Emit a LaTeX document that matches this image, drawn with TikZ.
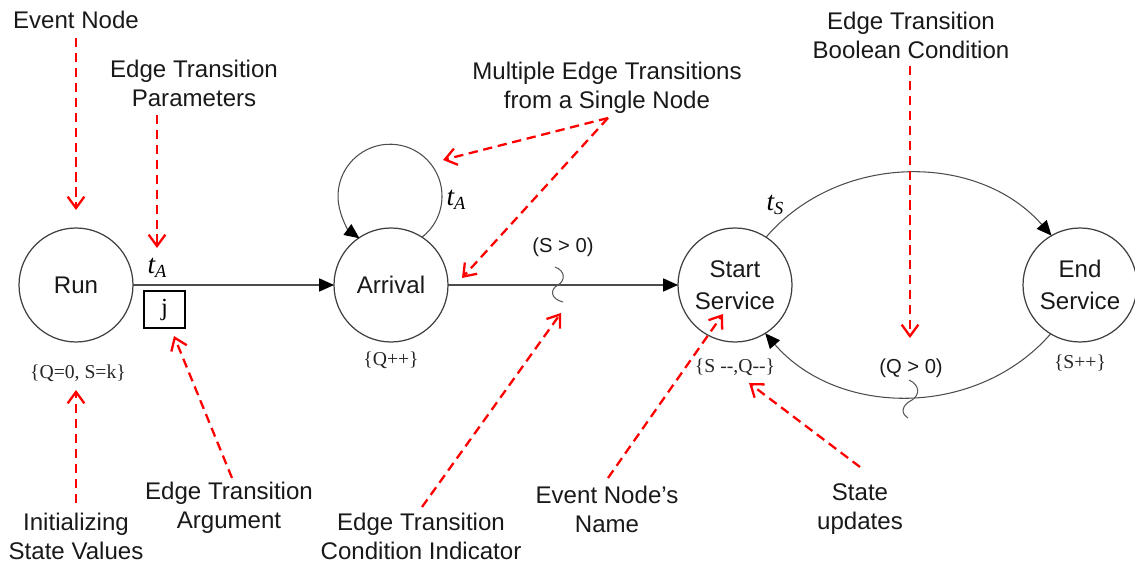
\documentclass[tikz,border=0pt]{standalone}
\usepackage{fontspec}
\setmainfont{Liberation Sans}
\newfontfamily\seriffont{Liberation Serif}
\usetikzlibrary{arrows.meta}
\newcommand{\tsub}[2]{{\seriffont\itshape\fontsize{15.5}{17}\selectfont #1\raisebox{-0.35ex}{\fontsize{10.5}{10}\selectfont #2}}}
\begin{document}
\begin{tikzpicture}[x=0.02cm,y=-0.02cm,
  every node/.style={inner sep=0pt, outer sep=0pt},
  lbl/.style={font=\fontsize{13.7}{16.4}\selectfont, align=center, text=black!90},
  ev/.style={circle, draw=black!75, line width=0.7pt, minimum size=2.28cm,
             font=\fontsize{13.7}{18}\selectfont, align=center, text=black!90},
  st/.style={font=\seriffont\fontsize{11.2}{13}\selectfont, text=black!85},
  cond/.style={font=\fontsize{11.5}{14}\selectfont, text=black!90},
  edge/.style={draw=black!70, line width=0.6pt,
               -{Triangle[length=8.5pt,width=7.5pt,fill=black,color=black]}},
  ann/.style={draw=red, line width=1.3pt, dash pattern=on 5.3pt off 3.2pt,
              -{Straight Barb[length=6.5pt,width=9.5pt]}},
  sq/.style={draw=black!65, line width=0.6pt}
]
\useasboundingbox (0,0) rectangle (1135,563);

% event nodes
\node[ev] (run) at (76,285) {Run};
\node[ev] (arr) at (391,285) {Arrival};
\node[ev] (ss) at (735,285) {Start\\Service};
\node[ev] (es) at (1080,285) {End\\Service};

% state updates
\node[st] (s1) at (78,373) {\{Q=0, S=k\}};
\node[st] (s2) at (391,360) {\{Q++\}};
\node[st] (s3) at (735,367) {\{S -{}-,Q-{}-\}};
\node[st] (s4) at (1080,363) {\{S++\}};

% edges
\draw[edge] (run) -- (arr);
\draw[edge] (arr) -- (ss);
\draw[edge] (arr.57) arc[start angle=52, end angle=-234, radius=52];
\draw[edge] (ss.57) to[bend left=49] (es.120);
\draw[edge] (es.239) to[bend left=49] (ss.302);

% edge parameters
\node (ta1) at (157,268) {\tsub{t}{A}};
\node (ta2) at (456,200) {\tsub{t}{A}};
\node (ts) at (775,205) {\tsub{t}{S}};
\node[draw=black, line width=0.9pt, minimum width=0.82cm, minimum height=0.74cm,
      font=\seriffont\fontsize{14}{14}\selectfont] (jbox) at (164.5,309.5) {j};

% conditions
\node[cond] (c1) at (563,247) {(S > 0)};
\node[cond] (c2) at (911,368) {(Q > 0)};
\draw[sq] (555,267) .. controls (566,271) and (565,281) .. (558,285)
                    .. controls (550,289) and (550,299) .. (563,302);
\draw[sq] (909,380) .. controls (920,385) and (920,395) .. (912,400)
                    .. controls (902,405) and (900,413) .. (908,418);

% annotation labels
\node[lbl] (l1) at (76,20) {Event Node};
\node[lbl] (l2) at (194,83) {Edge Transition\\Parameters};
\node[lbl] (l3) at (607,88) {Multiple Edge Transitions\\from a Single Node};
\node[lbl] (l4) at (911,35) {Edge Transition\\Boolean Condition};
\node[lbl] (l5) at (76,536) {Initializing\\State Values};
\node[lbl] (l6) at (229,508) {Edge Transition\\Argument};
\node[lbl] (l7) at (421,536) {Edge Transition\\Condition Indicator};
\node[lbl] (l8) at (607,509) {Event Node’s\\Name};
\node[lbl] (l9) at (860,509) {State\\updates};

% annotation arrow ends
\coordinate (a1s) at (76,38);   \coordinate (a1e) at (76,210);
\coordinate (a2s) at (157,115); \coordinate (a2e) at (157,248);
\coordinate (a3s) at (608,118); \coordinate (a3e) at (443,160); \coordinate (a3f) at (462,278);
\coordinate (a4s) at (910,66);  \coordinate (a4e) at (910,338);
\coordinate (a5s) at (76,503);  \coordinate (a5e) at (76,390);
\coordinate (a6s) at (232,478); \coordinate (a6e) at (174,336);
\coordinate (a7s) at (422,507); \coordinate (a7e) at (561,313);
\coordinate (a8s) at (608,478); \coordinate (a8e) at (723,314);
\coordinate (a9s) at (860,467); \coordinate (a9e) at (749,383);

\draw[ann] (a1s) -- (a1e);
\draw[ann] (a2s) -- (a2e);
\draw[ann] (a3s) -- (a3e);
\draw[ann] (a3s) -- (a3f);
\draw[ann] (a4s) -- (a4e);
\draw[ann] (a5s) -- (a5e);
\draw[ann] (a6s) -- (a6e);
\draw[ann] (a7s) -- (a7e);
\draw[ann] (a8s) -- (a8e);
\draw[ann] (a9s) -- (a9e);
\end{tikzpicture}
\end{document}
